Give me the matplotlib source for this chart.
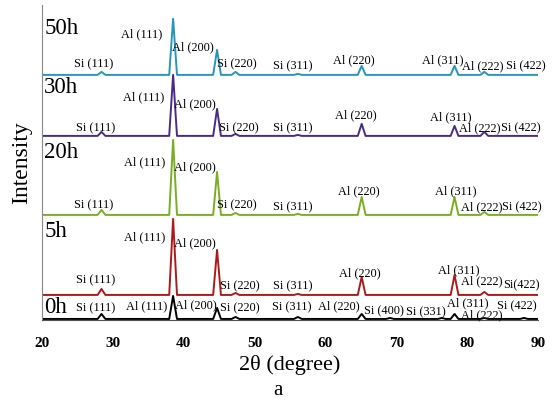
import matplotlib.pyplot as plt

plt.rcParams['font.family'] = ['Liberation Serif', 'DejaVu Serif']

# peak positions (2theta, degree)
peaks = [28.4, 38.5, 44.7, 47.3, 56.1, 65.1, 69.1, 76.4, 78.2, 82.4, 88.0]

# peak heights (offset units), one list per sample
h_50h = [3, 56, 25, 3, 1, 9, 0, 0, 9, 3, 0]
h_30h = [4, 61, 27, 2, 1, 12, 0, 0, 10, 4, 0]
h_20h = [5, 75, 43, 2, 1, 18, 0, 0, 18, 3, 0]
h_5h = [6, 76, 45, 2, 1, 18, 0, 0, 20, 3, 0]
h_0h = [5, 23, 11, 2, 2, 5, 1, 1, 5, 1, 1]

samples = ['50h', '30h', '20h', '5h', '0h']
heights = [h_50h, h_30h, h_20h, h_5h, h_0h]
offsets = [245, 184, 105, 25, 1]
colors = ['#2596be', '#4a2a88', '#7aae22', '#ae1a1a', '#000000']

# reflection labels: (text, 2theta, y)
labels = {
    '50h': [('Si (111)', 27.3, 256), ('Al (111)', 34.1, 286), ('Al (200)', 41.3, 273),
            ('Si (220)', 47.5, 256), ('Si (311)', 55.4, 254), ('Al (220)', 64.0, 260),
            ('Al (311)', 76.5, 260), ('Al (222)', 82.2, 254), ('Si (422)', 88.2, 254)],
    '30h': [('Si (111)', 27.6, 192), ('Al (111)', 34.4, 223), ('Al (200)', 41.6, 216),
            ('Si (220)', 47.7, 192), ('Si (311)', 55.4, 192), ('Al (220)', 64.3, 205),
            ('Al (311)', 77.7, 203), ('Al (222)', 81.7, 192), ('Si (422)', 87.5, 192)],
    '20h': [('Si (111)', 27.3, 115), ('Al (111)', 34.5, 158), ('Al (200)', 41.6, 153),
            ('Si (220)', 47.5, 115), ('Si (311)', 55.4, 113), ('Al (220)', 64.7, 129),
            ('Al (311)', 78.4, 129), ('Al (222)', 82.0, 113), ('Si (422)', 87.7, 113)],
    '5h': [('Si (111)', 27.6, 40), ('Al (111)', 34.5, 83), ('Al (200)', 41.6, 77),
           ('Si (220)', 47.9, 34), ('Si (311)', 55.4, 34), ('Al (220)', 64.9, 47),
           ('Al (311)', 78.8, 50), ('Al (222)', 82.0, 39), ('Si(422)', 87.6, 35)],
    '0h': [('Si (111)', 27.6, 12), ('Al (111)', 34.7, 14), ('Al (200)', 41.7, 15),
           ('Si (220)', 47.9, 12), ('Si (311)', 55.3, 13), ('Al (220)', 61.9, 14),
           ('Si (400)', 68.3, 9), ('Si (331)', 74.2, 8), ('Al (311)', 80.0, 17),
           ('Al (222)', 82.1, 5), ('Si (422)', 87.0, 14)],
}
name_y = {'50h': 291, '30h': 232, '20h': 167, '5h': 88, '0h': 12}

fig = plt.figure(figsize=(5.52, 4.05), dpi=100)
ax = fig.add_axes([0.076, 0.21, 0.899, 0.778])

w = 0.55
for name, hs, off, c in zip(samples, heights, offsets, colors):
    xs = [20]
    ys = [off]
    for p, h in zip(peaks, hs):
        if h <= 0:
            continue
        xs += [p - w, p, p + w]
        ys += [off, off + h, off]
    xs.append(90)
    ys.append(off)
    ax.plot(xs, ys, color=c, lw=1.4)
    for txt, x, y in labels[name]:
        ax.text(x, y, txt, fontsize=8.8, ha='center', va='center')
    ax.text(20.3, name_y[name], name, fontsize=16.5, ha='left', va='center')

ax.set_xlim(20, 90)
ax.set_ylim(0, 315)
ax.set_xticks([20, 30, 40, 50, 60, 70, 80, 90])
ax.set_yticks([])
ax.tick_params(axis='x', length=0, pad=12)
for lab in ax.get_xticklabels():
    lab.set_fontweight('bold')
    lab.set_fontsize(11)
ax.spines['top'].set_visible(False)
ax.spines['right'].set_visible(False)
ax.spines['left'].set_color('#888888')
ax.spines['bottom'].set_color('#555555')

ax.set_xlabel('2θ (degree)', fontsize=16, labelpad=4)
ax.set_ylabel('Intensity', fontsize=17, labelpad=7)
fig.text(0.503, 0.035, 'a', fontsize=15, ha='center', va='center')

plt.savefig('out.png', dpi=100)
